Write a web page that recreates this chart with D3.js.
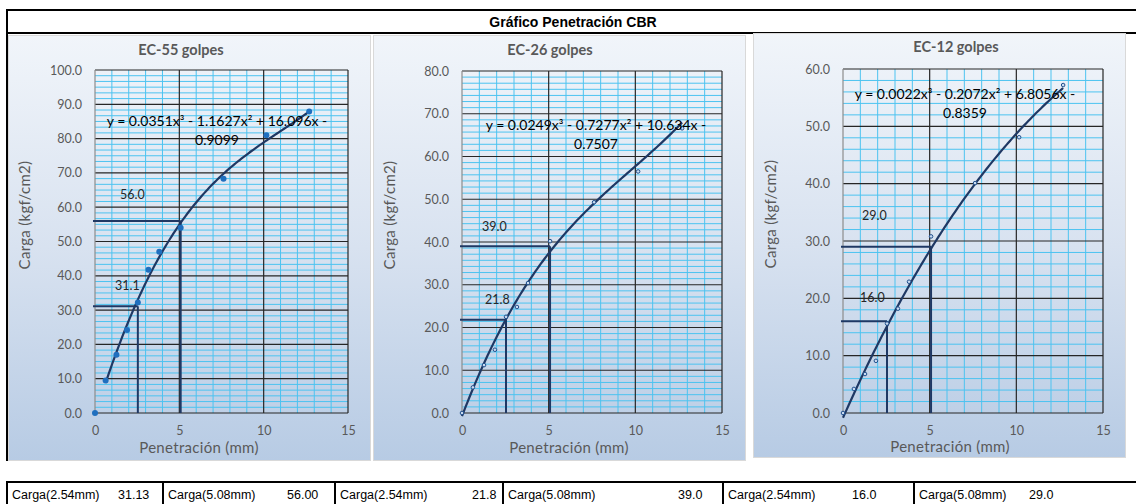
<!DOCTYPE html>
<html>
<head>
<meta charset="utf-8">
<script src="https://cdn.jsdelivr.net/npm/d3@7"></script>
<style>
  html, body { margin: 0; padding: 0; background: #ffffff; }
  svg { display: block; }
</style>
</head>
<body>
<svg id="chart" width="1136" height="504"></svg>
<script>
// ---- Data -------------------------------------------------------------
const mainTitle = "Gráfico Penetración CBR";
const chartTitles = ["EC-55 golpes", "EC-26 golpes", "EC-12 golpes"];
const xAxisTitle = "Penetración (mm)";
const yAxisTitle = "Carga (kgf/cm2)";

// penetration readings (mm)
const penetration = [0, 0.63, 1.27, 1.90, 2.54, 3.17, 3.81, 5.08, 7.62, 10.16, 12.70];

// load readings (kgf/cm2) for each compaction
const loadEC55 = [0, 9.5, 17.0, 24.2, 32.2, 41.8, 47.0, 54.0, 68.3, 81.0, 87.9];
const loadEC26 = [0, 6.0, 11.2, 14.8, 22.5, 24.8, 30.4, 40.2, 49.3, 56.5, 66.6];
const loadEC12 = [0, 4.2, 6.8, 9.1, 15.6, 18.2, 22.9, 30.8, 40.1, 48.1, 57.2];

// cubic trendline coefficients [a3, a2, a1, a0]
const trendEC55 = [0.0351, -1.1627, 16.096, -0.9099];
const trendEC26 = [0.0249, -0.7277, 10.634, -0.7507];
const trendEC12 = [0.0022, -0.2072, 6.8056, -0.8359];
const trendLabels = [
  ["y = 0.0351x³ - 1.1627x² + 16.096x -", "0.9099"],
  ["y = 0.0249x³ - 0.7277x² + 10.634x -", "0.7507"],
  ["y = 0.0022x³ - 0.2072x² + 6.8056x -", "0.8359"]
];
// x range covered by each trendline
const trendStart = [0.63, 0, 0];
const trendEnd = [12.70, 12.70, 12.70];

// reference penetrations and the loads read at them
const refPenetration = [2.54, 5.08];
const refEC55 = [31.1, 56.0];
const refEC26 = [21.8, 39.0];
const refEC12 = [16.0, 29.0];

// axis maxima and tick labels
const xTicks = [0, 5, 10, 15];
const yMaxes = [100, 80, 60];
const yTicksEC55 = [0, 10, 20, 30, 40, 50, 60, 70, 80, 90, 100];
const yTicksEC26 = [0, 10, 20, 30, 40, 50, 60, 70, 80];
const yTicksEC12 = [0, 10, 20, 30, 40, 50, 60];
const yMinorDivisions = [6, 7, 5];

// summary table
const tableLabels = ["Carga(2.54mm)", "Carga(5.08mm)", "Carga(2.54mm)", "Carga(5.08mm)", "Carga(2.54mm)", "Carga(5.08mm)"];
const tableValues = ["31.13", "56.00", "21.8", "39.0", "16.0", "29.0"];

// ---- Layout -----------------------------------------------------------
const panels = [
  { box: [8, 35, 362, 425], plot: [95, 70, 348, 413], title: [181, 55], yTitle: [25, 215], xTitle: [199, 453],
    labelOffsets: [[20, -16], [25, -22]], dots: "filled" },
  { box: [373, 35, 372, 425], plot: [462, 71, 722, 413], title: [550, 55], yTitle: [390, 215], xTitle: [569, 453],
    labelOffsets: [[23, -16], [20, -15]], dots: "hollow" },
  { box: [753, 33, 372, 424], plot: [843, 69, 1103, 413], title: [956, 52], yTitle: [771, 214], xTitle: [950, 452],
    labelOffsets: [[17, -19], [19, -27]], dots: "hollow" }
];
const series = [loadEC55, loadEC26, loadEC12];
const trends = [trendEC55, trendEC26, trendEC12];
const refs = [refEC55, refEC26, refEC12];
const yTickSets = [yTicksEC55, yTicksEC26, yTicksEC12];

const chartFont = "Lato, 'Open Sans', sans-serif";
const tableFont = "'Liberation Sans', Arial, sans-serif";
const navy = "#1f3864";

const svg = d3.select("#chart");
const defs = svg.append("defs");

const grad = defs.append("linearGradient").attr("id", "panelFill")
  .attr("x1", 0).attr("y1", 0).attr("x2", 0).attr("y2", 1);
grad.append("stop").attr("offset", "0%").attr("stop-color", "#f1f5fa");
grad.append("stop").attr("offset", "50%").attr("stop-color", "#d8e2f0");
grad.append("stop").attr("offset", "100%").attr("stop-color", "#b7cbe4");

// ---- Outer frame ------------------------------------------------------
svg.append("line").attr("x1", 7).attr("x2", 1136).attr("y1", 10).attr("y2", 10)
  .attr("stroke", "#000").attr("stroke-width", 2);
svg.append("line").attr("x1", 7).attr("x2", 1136).attr("y1", 33).attr("y2", 33)
  .attr("stroke", "#000").attr("stroke-width", 2);
svg.append("line").attr("x1", 7).attr("x2", 7).attr("y1", 9).attr("y2", 461)
  .attr("stroke", "#000").attr("stroke-width", 2);
svg.append("text").attr("x", 573).attr("y", 27)
  .attr("text-anchor", "middle").attr("font-family", tableFont)
  .attr("font-weight", "bold").attr("font-size", 14).attr("fill", "#000")
  .text(mainTitle);

// ---- Panels -----------------------------------------------------------
panels.forEach((p, i) => {
  const g = svg.append("g");
  const [bx, by, bw, bh] = p.box;
  g.append("rect").attr("x", bx + 0.5).attr("y", by + 0.5).attr("width", bw).attr("height", bh)
    .attr("fill", "url(#panelFill)").attr("stroke", "#d9d9d9").attr("stroke-width", 1);

  const [px0, py0, px1, py1] = p.plot;
  const x = d3.scaleLinear().domain([0, 15]).range([px0, px1]);
  const y = d3.scaleLinear().domain([0, yMaxes[i]]).range([py1, py0]);

  // minor grid
  const xMinor = d3.range(1, 15).filter(v => v % 5 !== 0);
  g.selectAll(".xminor").data(xMinor).join("line")
    .attr("x1", d => x(d)).attr("x2", d => x(d)).attr("y1", py0).attr("y2", py1)
    .attr("stroke", "#4cc3f0").attr("stroke-width", 1);
  const step = 10 / yMinorDivisions[i];
  const yMinor = [];
  for (let k = 0; k < yMaxes[i] / 10; k++) {
    for (let m = 1; m < yMinorDivisions[i]; m++) yMinor.push(k * 10 + m * step);
  }
  g.selectAll(".yminor").data(yMinor).join("line")
    .attr("x1", px0).attr("x2", px1).attr("y1", d => y(d)).attr("y2", d => y(d))
    .attr("stroke", "#4cc3f0").attr("stroke-width", 1);

  // major grid
  g.selectAll(".ymajor").data(yTickSets[i]).join("line")
    .attr("x1", px0).attr("x2", px1).attr("y1", d => y(d)).attr("y2", d => y(d))
    .attr("stroke", "#262626").attr("stroke-width", 1.2);
  g.selectAll(".xmajor").data(xTicks.filter(v => v > 0)).join("line")
    .attr("x1", d => x(d)).attr("x2", d => x(d)).attr("y1", py0).attr("y2", py1)
    .attr("stroke", "#262626").attr("stroke-width", 1.2);
  g.append("line").attr("x1", px0).attr("x2", px0).attr("y1", py0).attr("y2", py1)
    .attr("stroke", "#8c8c8c").attr("stroke-width", 1.2);

  // axes (labels only)
  const yAxis = d3.axisLeft(y).tickValues(yTickSets[i]).tickFormat(d3.format(".1f")).tickSize(0).tickPadding(13);
  const ya = g.append("g").attr("transform", `translate(${px0},0)`).call(yAxis);
  ya.select(".domain").remove();
  ya.selectAll("text").attr("font-family", chartFont).attr("font-size", 12.5).attr("fill", "#595959");

  const xAxis = d3.axisBottom(x).tickValues(xTicks).tickFormat(d3.format("d")).tickSize(0).tickPadding(13);
  const xa = g.append("g").attr("transform", `translate(0,${py1})`).call(xAxis);
  xa.select(".domain").remove();
  xa.selectAll("text").attr("font-family", chartFont).attr("font-size", 12.5).attr("fill", "#595959");

  // titles
  g.append("text").attr("x", p.title[0]).attr("y", p.title[1]).attr("text-anchor", "middle")
    .attr("font-family", chartFont).attr("font-weight", "bold").attr("font-size", 14.5).attr("fill", "#595959")
    .text(chartTitles[i]);
  g.append("text").attr("transform", `translate(${p.yTitle[0] + 5},${p.yTitle[1]}) rotate(-90)`)
    .attr("text-anchor", "middle").attr("font-family", chartFont).attr("font-size", 15)
    .attr("letter-spacing", 0.3).attr("fill", "#595959")
    .text(yAxisTitle);
  g.append("text").attr("x", p.xTitle[0]).attr("y", p.xTitle[1]).attr("text-anchor", "middle")
    .attr("font-family", chartFont).attr("font-size", 15).attr("letter-spacing", 0.3).attr("fill", "#595959")
    .text(xAxisTitle);

  // reference lines at 2.54 mm and 5.08 mm
  refPenetration.forEach((rx, j) => {
    const ry = refs[i][j];
    g.append("line").attr("x1", x(0) - 2).attr("x2", x(rx)).attr("y1", y(ry)).attr("y2", y(ry))
      .attr("stroke", navy).attr("stroke-width", 2);
    g.append("line").attr("x1", x(rx)).attr("x2", x(rx)).attr("y1", y(0)).attr("y2", y(ry))
      .attr("stroke", navy).attr("stroke-width", 2);
    const [dx, dy] = p.labelOffsets[j];
    g.append("text").attr("x", px0 + dx).attr("y", y(ry) + dy)
      .attr("font-family", chartFont).attr("font-size", 12.5).attr("fill", "#262626")
      .text(d3.format(".1f")(ry));
  });

  // trendline
  const c = trends[i];
  const poly = v => ((c[0] * v + c[1]) * v + c[2]) * v + c[3];
  const xs = d3.range(0, 121).map(k => trendStart[i] + (trendEnd[i] - trendStart[i]) * k / 120);
  g.append("path").datum(xs)
    .attr("d", d3.line().x(d => x(d)).y(d => y(poly(d))).curve(d3.curveLinear))
    .attr("fill", "none").attr("stroke", navy).attr("stroke-width", 2.2);

  // points
  const pts = penetration.map((v, k) => [v, series[i][k]]);
  if (p.dots === "filled") {
    g.selectAll(".pt").data(pts).join("circle")
      .attr("cx", d => x(d[0])).attr("cy", d => y(d[1])).attr("r", 3)
      .attr("fill", "#1f6fbf");
  } else {
    g.selectAll(".pt").data(pts).join("circle")
      .attr("cx", d => x(d[0])).attr("cy", d => y(d[1])).attr("r", 1.8)
      .attr("fill", "#c9daf0").attr("stroke", "#1f4e8c").attr("stroke-width", 1);
  }

  // equation label
  const ex = [217, 596, 965][i];
  const ey = [126, 130, 99][i];
  g.append("text").attr("x", ex).attr("y", ey).attr("text-anchor", "middle")
    .attr("font-family", chartFont).attr("font-size", 14).attr("fill", "#000")
    .text(trendLabels[i][0]);
  g.append("text").attr("x", ex).attr("y", ey + 19).attr("text-anchor", "middle")
    .attr("font-family", chartFont).attr("font-size", 14).attr("fill", "#000")
    .text(trendLabels[i][1]);
});

// ---- Summary table ----------------------------------------------------
const colEdges = [7, 163, 335, 503, 723, 914, 1140];
const valueX = [118, 287, 472, 678, 852, 1029];
const tableTop = 482;
svg.append("line").attr("x1", 7).attr("x2", 1136).attr("y1", tableTop).attr("y2", tableTop)
  .attr("stroke", "#000").attr("stroke-width", 2);
svg.selectAll(".colsep").data(colEdges.slice(0, 6)).join("line")
  .attr("x1", d => d).attr("x2", d => d).attr("y1", tableTop - 1).attr("y2", 504)
  .attr("stroke", "#000").attr("stroke-width", 2);
svg.selectAll(".tlabel").data(tableLabels).join("text")
  .attr("x", (d, k) => colEdges[k] + 5).attr("y", 499)
  .attr("font-family", tableFont).attr("font-size", 12.5).attr("fill", "#000")
  .text(d => d);
svg.selectAll(".tvalue").data(tableValues).join("text")
  .attr("x", (d, k) => valueX[k]).attr("y", 499)
  .attr("font-family", tableFont).attr("font-size", 12.5).attr("fill", "#000")
  .text(d => d);
</script>
</body>
</html>
